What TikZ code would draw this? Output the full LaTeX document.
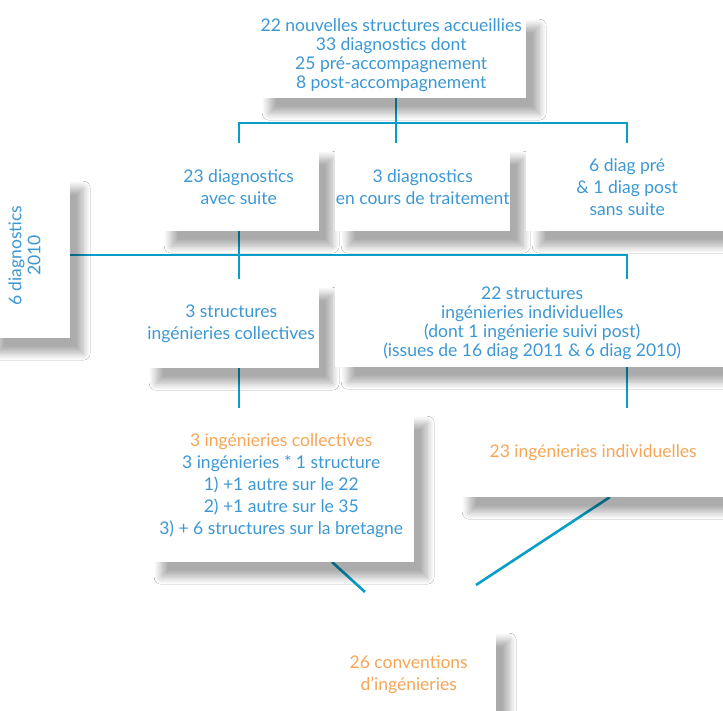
\documentclass[tikz,border=0pt]{standalone}
\usepackage{fontspec}
\setmainfont{Lato}
\usetikzlibrary{backgrounds,shadows.blur}

\definecolor{txtblue}{RGB}{60,152,212}
\definecolor{lnblue}{RGB}{8,158,200}
\definecolor{txtorange}{RGB}{246,166,86}

\tikzset{
  box/.style={fill=white, inner sep=0pt, align=center, anchor=north west, text=txtblue,
    font=\fontsize{17.5}{22}\selectfont,
    blur shadow={shadow xshift=13pt, shadow yshift=-15pt, shadow blur radius=7pt,
      shadow blur steps=12, shadow opacity=33}},
  tight/.style={font=\fontsize{17.5}{19}\selectfont},
  hi/.style={text=txtorange},
  link/.style={draw=lnblue, line width=2.6pt}
}

\begin{document}
\begin{tikzpicture}[x=1pt,y=-1pt]
\useasboundingbox (0,0) rectangle (723,711);
\clip (0,0) rectangle (723,711);

% top box
\node[box, tight, minimum width=270, minimum height=87] (top) at (256,11)
  {22 nouvelles structures accueillies\\33 diagnostics dont\\25 pré-accompagnement\\8 post-accompagnement};

% diagnostics
\node[box, minimum width=161, minimum height=88] (d23) at (158,143) {23 diagnostics\\avec suite};
\node[box, minimum width=175, minimum height=88] (d3) at (335,143) {3 diagnostics\\en cours de traitement};
\node[box, minimum width=202, minimum height=88] (d6) at (526,143) {6 diag pré\\\& 1 diag post\\sans suite};
\node[box, minimum width=86, minimum height=165] (d2010) at (-16,173)
  {\rotatebox{90}{\fontsize{17.5}{19}\selectfont\begin{tabular}{@{}c@{}}6 diagnostics\\2010\end{tabular}}};

% structures
\node[box, minimum width=176, minimum height=89] (s3) at (143,279) {3 structures\\ingénieries collectives};
\node[box, tight, minimum width=394, minimum height=88] (s22) at (335,279)
  {22 structures\\ingénieries individuelles\\(dont 1 ingénierie suivi post)\\(issues de 16 diag 2011 \& 6 diag 2010)};

% ingenieries
\node[box, minimum width=266, minimum height=154] (i3) at (148,408)
  {\textcolor{txtorange}{3 ingénieries collectives}\\3 ingénieries * 1 structure\\1) +1 autre sur le 22\\2) +1 autre sur le 35\\3) + 6 structures sur la bretagne};
\node[box, hi, minimum width=274, minimum height=89] (i23) at (456,408) {23 ingénieries individuelles};

% conventions
\node[box, hi, minimum width=175, minimum height=98] (c26) at (321,625) {26 conventions\\d’ingénieries};

\coordinate (bus1) at (396,123);
\coordinate (xl) at (239,0);
\coordinate (xr) at (627,0);
\coordinate (bus2) at (239,255);
\coordinate (m1) at (365,592);
\coordinate (m2) at (476,585);

\begin{pgfonlayer}{background}
\fill[white] (0,0) rectangle (723,711);
% connectors
\draw[link] (top.south -| bus1) -- (bus1 |- d3.north);
\draw[link] (xl |- d23.north) |- (bus1) -| (xr |- d6.north);
\draw[link] (xl |- d23.south) -- (xl |- s3.north);
\draw[link] (d2010.east |- bus2) -- (bus2 -| xr) -- (xr |- s22.north);
\draw[link] (xl |- s3.south) -- (xl |- i3.north);
\draw[link] (xr |- s22.south) -- (xr |- i23.north);
\draw[link] (m1) -- ++(-33,-30);
\draw[link] (m2) -- ++(134,-88);
\end{pgfonlayer}

\end{tikzpicture}
\end{document}
